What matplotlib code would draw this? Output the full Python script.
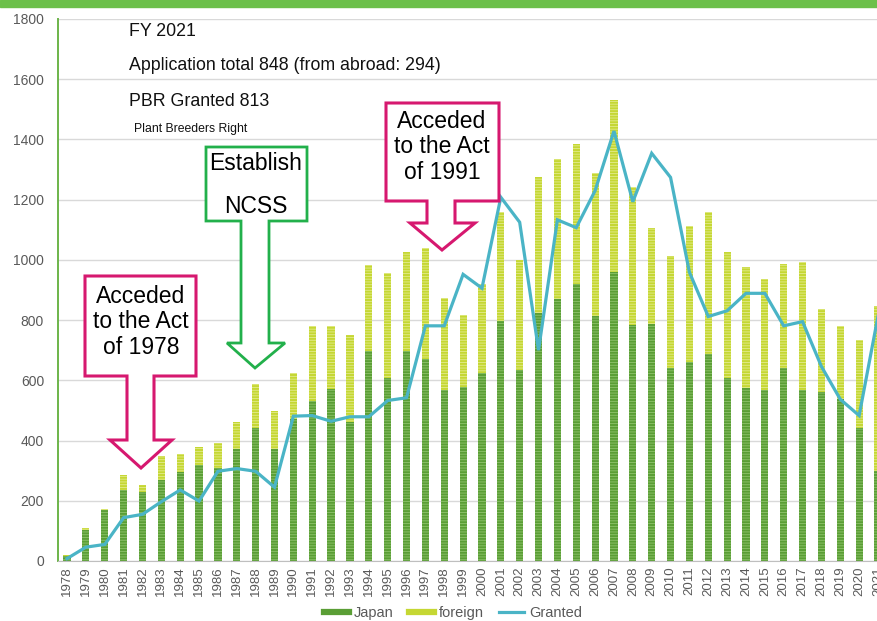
import numpy as np
import matplotlib
matplotlib.use("Agg")
import matplotlib.pyplot as plt
from matplotlib.patches import Polygon, Rectangle
from matplotlib.lines import Line2D

plt.rcParams['font.family'] = ['Liberation Sans', 'DejaVu Sans']
plt.rcParams['hatch.linewidth'] = 0.6

years = list(range(1978, 2022))
japan = [15, 103, 168, 235, 230, 268, 294, 318, 309, 373, 443, 373, 470, 533, 571,
         462, 697, 609, 697, 671, 568, 579, 623, 798, 634, 823, 869, 921, 812, 959,
         783, 786, 642, 660, 686, 609, 573, 568, 642, 568, 560, 537, 442, 300]
foreign = [5, 7, 5, 51, 24, 81, 61, 62, 83, 89, 145, 126, 155, 247, 209,
           287, 285, 346, 329, 367, 307, 239, 297, 360, 367, 453, 465, 464, 478, 572,
           459, 321, 371, 454, 472, 417, 403, 369, 345, 425, 278, 243, 293, 548]
granted = [8, 46, 55, 144, 155, 197, 236, 199, 298, 307, 298, 245, 481, 483, 464,
           479, 479, 533, 542, 781, 781, 952, 906, 1208, 1125, 700, 1133, 1107, 1230, 1428,
           1193, 1354, 1274, 959, 812, 831, 889, 889, 781, 795, 646, 537, 483, 813]

info_lines = ["FY 2021", "Application total 848 (from abroad: 294)", "PBR Granted 813"]
info_note = "Plant Breeders Right"

W, H = 878, 621
GREEN, GREEN_H = "#5a9e35", "#8fc46c"
YEL, YEL_H = "#c5d733", "#e3ec8e"
LINE = "#4ab4c6"
MAGENTA = "#d6186f"
NCSS_GREEN = "#22b04b"
GREY = "#595959"

fig = plt.figure(figsize=(W / 100, H / 100), dpi=100)
ax = fig.add_axes([58 / W, 1 - 561 / H, 1 - 58 / W, (561 - 19) / H])

ax.bar(years, japan, width=0.38, color=GREEN, edgecolor=GREEN_H, linewidth=0,
       hatch="------", zorder=2, label="Japan")
ax.bar(years, foreign, bottom=japan, width=0.38, color=YEL, edgecolor=YEL_H,
       linewidth=0, hatch="------", zorder=2, label="foreign")
ax.plot(years, granted, color=LINE, lw=2.3, zorder=3, label="Granted",
        solid_joinstyle="miter")

ax.set_xlim(1977.52, 2021.0)
ax.set_ylim(0, 1800)
ax.set_yticks(range(0, 1801, 200))
ax.set_xticks(years)
ax.set_xticklabels([str(y) for y in years], rotation=90, fontsize=9.5, color=GREY)
ax.tick_params(axis="y", length=0, pad=10, labelsize=10, labelcolor=GREY)
ax.tick_params(axis="x", length=0, pad=4)
ax.grid(axis="y", color="#d9d9d9", lw=1, zorder=0)
ax.set_axisbelow(True)
for s in ["top", "right"]:
    ax.spines[s].set_visible(False)
ax.spines["bottom"].set_color("#bfbfbf")
ax.spines["left"].set_color("#6db44a")
ax.spines["left"].set_linewidth(1.4)


def fx(x):
    return x / W


def fy(y):
    return 1 - y / H


# top green band
fig.patches.append(Rectangle((0, fy(7)), 1, 7 / H, transform=fig.transFigure,
                             color="#6cc04a", zorder=0))

# info text
for txt, ypix in zip(info_lines, [31, 66, 101]):
    fig.text(fx(129), fy(ypix), txt, fontsize=12.8, va="center", ha="left", color="#111111")
fig.text(fx(134), fy(129), info_note, fontsize=8.8, va="center", ha="left", color="#111111")


def callout(box, stem, head, tip, color, lw):
    x0, x1, y0, y1 = box
    sx0, sx1 = stem
    hx0, hx1, hb = head
    tx, ty = tip
    pts = [(x0, y0), (x1, y0), (x1, y1), (sx1, y1), (sx1, hb), (hx1, hb), (tx, ty),
           (hx0, hb), (sx0, hb), (sx0, y1), (x0, y1)]
    poly = Polygon([(fx(a), fy(b)) for a, b in pts], closed=True, transform=fig.transFigure,
                   facecolor="white", edgecolor=color, lw=lw, joinstyle="miter", zorder=5)
    fig.patches.append(poly)


callout((85, 196, 276, 376), (127, 154), (110, 172, 440), (141, 468), MAGENTA, 2.2)
fig.text(fx(141), fy(322), "Acceded\nto the Act\nof 1978", fontsize=16.5, ha="center",
         va="center", linespacing=1.15, zorder=6)

callout((206, 307, 147, 221), (241, 269), (227, 285, 343), (255, 368), NCSS_GREEN, 2.0)
fig.text(fx(256), fy(163), "Establish", fontsize=16.5, ha="center", va="center", zorder=6)
fig.text(fx(256), fy(207), "NCSS", fontsize=16.5, ha="center", va="center", zorder=6)

callout((386, 499, 103, 201), (427, 455), (410, 475, 223), (442, 250), MAGENTA, 2.2)
fig.text(fx(442), fy(147), "Acceded\nto the Act\nof 1991", fontsize=16.5, ha="center",
         va="center", linespacing=1.15, zorder=6)

handles = [Line2D([0], [0], color=GREEN, lw=4.5),
           Line2D([0], [0], color=YEL, lw=4.5),
           Line2D([0], [0], color=LINE, lw=2.3)]
leg = fig.legend(handles, ["Japan", "foreign", "Granted"], loc="center",
                 bbox_to_anchor=(fx(453), fy(613)), ncol=3, frameon=False,
                 fontsize=10.5, handlelength=1.7, handletextpad=0.35, columnspacing=1.05,
                 borderpad=0)
for t in leg.get_texts():
    t.set_color(GREY)

fig.savefig("out.png", dpi=100)
